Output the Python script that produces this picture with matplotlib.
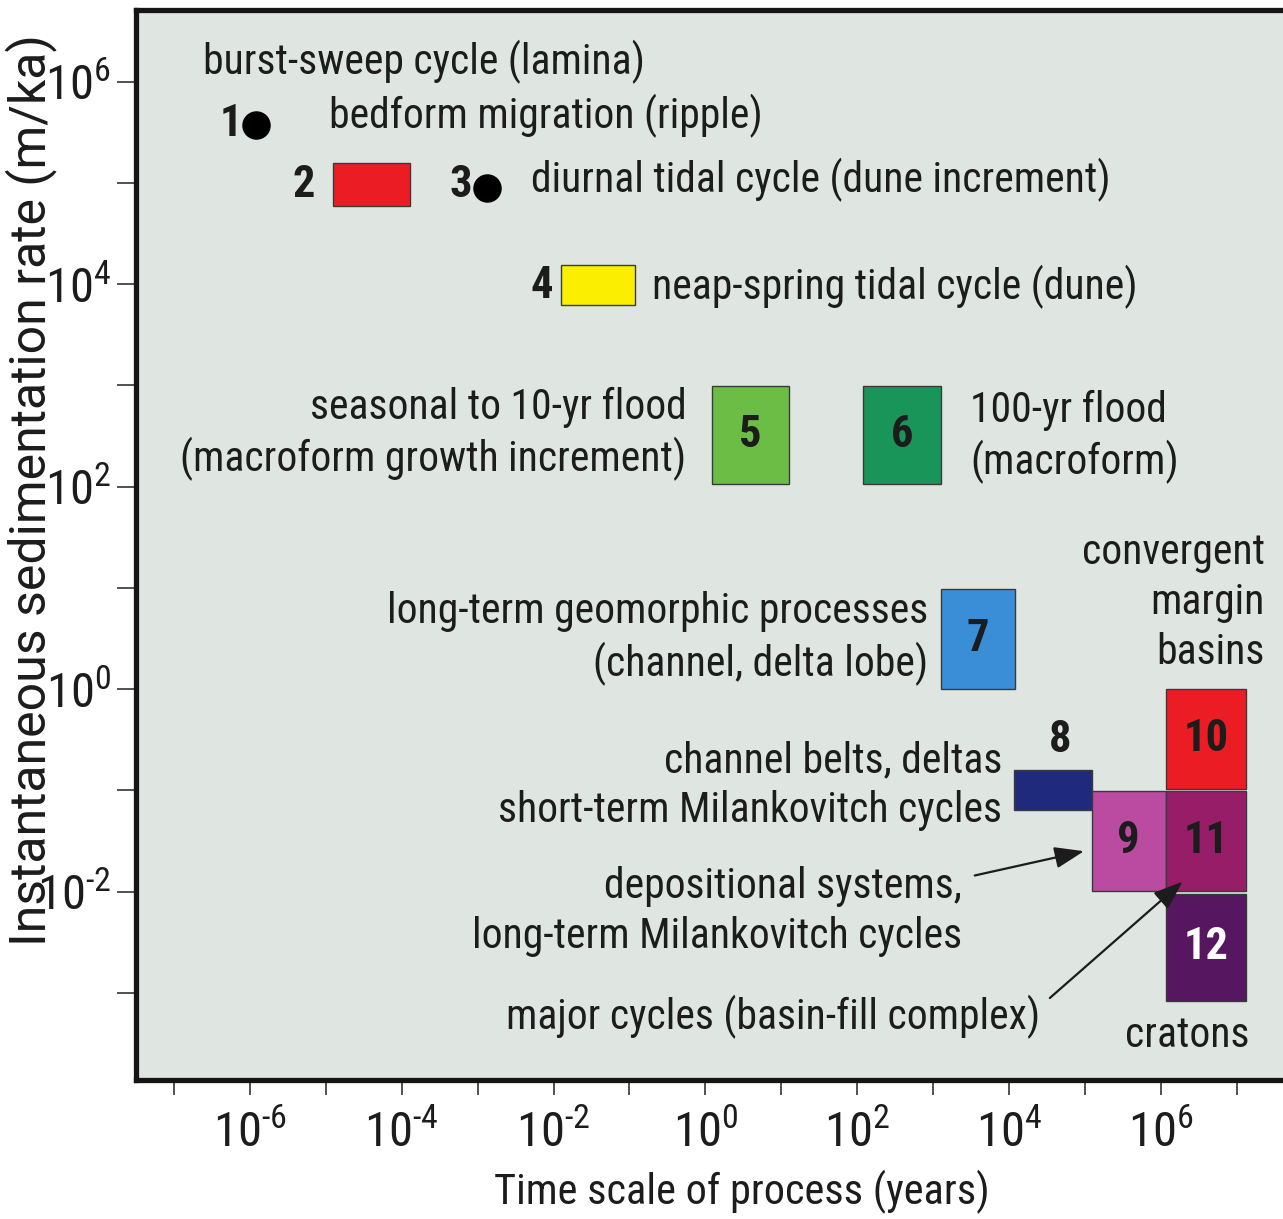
import numpy as np
import matplotlib
matplotlib.use('Agg')
import matplotlib.pyplot as plt
from matplotlib.patches import Rectangle
from matplotlib.ticker import FixedLocator, FuncFormatter

plt.rcParams['font.family'] = ['Roboto Condensed', 'DejaVu Sans']
plt.rcParams['mathtext.fontset'] = 'custom'
plt.rcParams['mathtext.rm'] = 'Roboto Condensed'

INK = '#1c1c1c'

# process boxes: log10 of time scale (years) and of sedimentation rate (m/ka)
box_ids = ['2', '4', '5', '6', '7', '8', '9', '10', '11', '12']
box_t0 = [-4.91, -1.90, 0.09, 2.08, 3.10, 4.07, 5.09, 6.07, 6.07, 6.07]
box_t1 = [-3.89, -0.92, 1.10, 3.10, 4.08, 5.09, 6.07, 7.12, 7.12, 7.12]
box_r0 = [4.77, 3.79, 2.03, 2.03, 0.00, -1.19, -1.99, -0.99, -1.99, -3.08]
box_r1 = [5.20, 4.19, 2.99, 2.99, 0.99, -0.80, -1.01, 0.00, -1.01, -2.02]
box_colors = ['#ec1c24', '#fbee00', '#6cbd45', '#1a9559', '#3a8dd7',
              '#1f2a7c', '#bb4aa1', '#ec1c24', '#981d69', '#561660']

# point processes (log10)
dot_ids = ['1', '3']
dot_t = [-5.92, -2.88]
dot_r = [5.57, 4.95]

fig = plt.figure(figsize=(12.83, 12.19), dpi=100)
ax = fig.add_axes([0.1061, 0.114, 0.905, 0.878])
ax.set_xscale('log')
ax.set_yscale('log')
ax.set_xlim(10**-7.5, 10**7.8)
ax.set_ylim(10**-3.86, 10**6.71)
ax.set_facecolor('#dfe6e1')

for s in ['left', 'bottom', 'top', 'right']:
    ax.spines[s].set_linewidth(3.8)
    ax.spines[s].set_color('#151515')

decades_x = np.arange(-7, 8)
decades_y = np.arange(-3, 7)
ax.xaxis.set_major_locator(FixedLocator(10.0**decades_x))
ax.yaxis.set_major_locator(FixedLocator(10.0**decades_y))
ax.xaxis.set_minor_locator(FixedLocator([]))
ax.yaxis.set_minor_locator(FixedLocator([]))


def even_power(v, pos):
    e = int(round(np.log10(v)))
    if e % 2:
        return ''
    exp = ('\u2010%d' % -e) if e < 0 else '%d' % e
    return r'$\mathregular{10^{%s}}$' % exp


ax.xaxis.set_major_formatter(FuncFormatter(even_power))
ax.yaxis.set_major_formatter(FuncFormatter(even_power))
ax.tick_params(axis='x', direction='out', length=11, width=1.2, color='#333333',
               pad=11, labelsize=35, labelcolor=INK)
ax.tick_params(axis='y', direction='out', length=14, width=1.2, color='#333333',
               pad=4, labelsize=35, labelcolor=INK)

ax.set_xlabel('Time scale of process (years)', fontsize=30.5, color=INK)
ax.xaxis.set_label_coords(0.522, -0.0835)
ax.set_ylabel('Instantaneous sedimentation rate (m/ka)', fontsize=36, color=INK,
              family=['Roboto', 'DejaVu Sans'])
ax.yaxis.set_label_coords(-0.068, 0.551)

# boxes
for bid, t0, t1, r0, r1, c in zip(box_ids, box_t0, box_t1, box_r0, box_r1, box_colors):
    ax.add_patch(Rectangle((10**t0, 10**r0), 10**t1 - 10**t0, 10**r1 - 10**r0,
                           facecolor=c, edgecolor='#3a3a3a', lw=1.0, zorder=3))

# dots
ax.plot(10.0**np.array(dot_t), 10.0**np.array(dot_r), 'o', ms=19.5,
        color='black', zorder=4)

num_kw = dict(fontsize=32, fontweight='bold', color=INK, zorder=5)


def mid(a, b):
    return 10**((a + b) / 2)


# numbers inside boxes
for bid, t0, t1, r0, r1 in zip(box_ids, box_t0, box_t1, box_r0, box_r1):
    if bid in ('5', '6', '7', '9', '10', '11', '12'):
        ax.text(mid(t0, t1), mid(r0, r1), bid, ha='center', va='center',
                **{**num_kw, 'color': 'white' if bid == '12' else INK})

# numbers beside marks
ax.text(10**-6.10, 10**5.58, '1', ha='right', va='center', **num_kw)
ax.text(10**-5.14, 10**4.98, '2', ha='right', va='center', **num_kw)
ax.text(10**-3.08, 10**4.98, '3', ha='right', va='center', **num_kw)
ax.text(10**-2.01, 10**3.98, '4', ha='right', va='center', **num_kw)
ax.text(10**4.67, 10**-0.50, '8', ha='center', va='center', **num_kw)

lab_kw = dict(fontsize=30, color=INK, linespacing=1.28, zorder=5)
ax.text(10**-6.62, 10**6.19, 'burst-sweep cycle (lamina)', ha='left', va='center', **lab_kw)
ax.text(10**-4.96, 10**5.66, 'bedform migration (ripple)', ha='left', va='center', **lab_kw)
ax.text(10**-2.30, 10**5.03, 'diurnal tidal cycle (dune increment)', ha='left', va='center', **lab_kw)
ax.text(10**-0.70, 10**3.97, 'neap-spring tidal cycle (dune)', ha='left', va='center', **lab_kw)
ax.text(10**-0.25, 10**2.52, 'seasonal to 10-yr flood\n(macroform growth increment)',
        ha='right', va='center', multialignment='right', **lab_kw)
ax.text(10**3.49, 10**2.49, '100-yr flood\n(macroform)', ha='left', va='center',
        multialignment='left', **lab_kw)
ax.text(10**2.94, 10**0.50, 'long-term geomorphic processes\n(channel, delta lobe)',
        ha='right', va='center', multialignment='right', **lab_kw)
ax.text(10**7.37, 10**0.86, 'convergent\nmargin\nbasins', ha='right', va='center',
        multialignment='right', **lab_kw)
ax.text(10**3.91, 10**-0.95, 'channel belts, deltas\nshort-term Milankovitch cycles',
        ha='right', va='center', multialignment='right', **lab_kw)
ax.text(10**3.38, 10**-2.20, 'depositional systems,\nlong-term Milankovitch cycles',
        ha='right', va='center', multialignment='right', **lab_kw)
ax.text(10**4.41, 10**-3.24, 'major cycles (basin-fill complex)', ha='right',
        va='center', **lab_kw)
ax.text(10**6.35, 10**-3.42, 'cratons', ha='center', va='center', **lab_kw)

# pointer arrows
arrow_kw = dict(arrowstyle='-|>,head_length=0.6,head_width=0.22', color=INK,
                lw=1.6, mutation_scale=30, shrinkA=0, shrinkB=0)
ax.annotate('', xy=(10**4.99, 10**-1.60), xytext=(10**3.55, 10**-1.84),
            arrowprops=arrow_kw, zorder=6)
ax.annotate('', xy=(10**6.29, 10**-1.90), xytext=(10**4.54, 10**-3.05),
            arrowprops=arrow_kw, zorder=6)

fig.savefig('out.png', dpi=100, facecolor='white')
